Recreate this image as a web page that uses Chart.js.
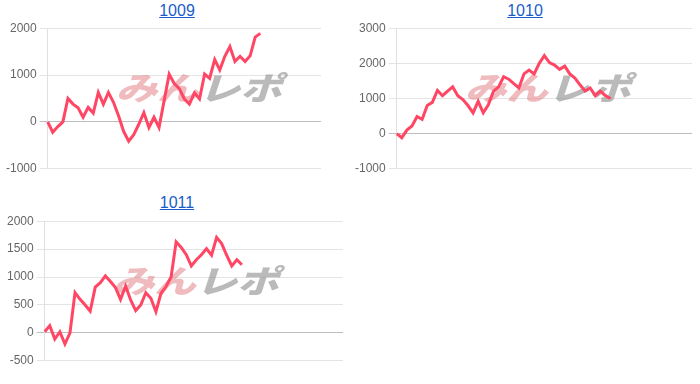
<!DOCTYPE html>
<html>
<head>
<meta charset="utf-8">
<script src="https://cdn.jsdelivr.net/npm/chart.js@4"></script>
<style>
  body { margin: 0; background: #fff; font-family: Arial, "Liberation Sans", sans-serif; }
  .box { position: absolute; }
  .ttl { position: absolute; left: 0; right: 0; text-align: center; font-size: 16px; }
  .ttl a { color: #1a5dc8; text-decoration: underline; }
  canvas { position: absolute; }
</style>
</head>
<body>
<div class="box" style="left:0;top:0;width:354px;height:185px">
  <div class="ttl" style="top:2px"><a href="#">1009</a></div>
  <canvas id="c1" width="324" height="161" style="left:0;top:18px"></canvas>
</div>
<div class="box" style="left:350px;top:0;width:350px;height:185px">
  <div class="ttl" style="top:2px"><a href="#">1010</a></div>
  <canvas id="c2" width="346" height="161" style="left:0;top:18px"></canvas>
</div>
<div class="box" style="left:0;top:192px;width:354px;height:185px">
  <div class="ttl" style="top:2px"><a href="#">1011</a></div>
  <canvas id="c3" width="347" height="160" style="left:0;top:19px"></canvas>
</div>
<script>
// values
var names = ['1009', '1010', '1011'];
var slots = [55, 59, 60];

var data1009 = [0, -220, -100, 0, 500, 380, 300, 100, 310, 190, 630, 380, 630, 420, 130, -200, -410, -270, -50, 200,
  -120, 100, -120, 450, 1020, 820, 710, 490, 380, 620, 490, 1020, 930, 1330, 1110, 1400, 1610, 1290, 1400, 1290,
  1410, 1810, 1890];
var data1010 = [0, -115, 100, 220, 490, 410, 800, 890, 1230, 1080, 1210, 1330, 1080, 970, 800, 590, 920, 590, 820, 1200,
  1330, 1620, 1550, 1420, 1300, 1700, 1810, 1700, 2000, 2220, 2020, 1950, 1830, 1920, 1700, 1580, 1390, 1210, 1300,
  1080, 1210, 1080, 1000];
var data1011 = [20, 130, -110, 20, -200, 0, 720, 600, 500, 390, 820, 900, 1020, 920, 810, 600, 840, 590, 400, 500,
  720, 620, 380, 710, 830, 1000, 1630, 1530, 1400, 1200, 1310, 1400, 1510, 1390, 1710, 1600, 1390, 1200, 1310, 1220];

var yMin = [-1000, -1000, -500];
var yMax = [2000, 3000, 2000];
var yStep = [1000, 1000, 500];

// watermark behind the line
var mark = {
  id: 'mark',
  beforeDatasetsDraw: function(chart) {
    var a = chart.chartArea, ctx = chart.ctx;
    ctx.save();
    ctx.font = 'italic 900 40px "Noto Sans CJK JP"';
    var w1 = ctx.measureText('みん').width, w2 = ctx.measureText('レポ').width;
    var sx = 166 / (w1 + w2);
    ctx.translate(a.left + 68, a.top + 75);
    ctx.scale(sx, 0.8);
    ctx.textBaseline = 'alphabetic';
    ctx.fillStyle = 'rgba(225,120,125,0.5)';
    ctx.fillText('みん', 0, -4);
    ctx.fillStyle = 'rgba(140,140,140,0.6)';
    ctx.fillText('レポ', w1, -4);
    ctx.restore();
  }
};

var sets = [data1009, data1010, data1011];
var pads = [{left: 3, right: 3, top: 0, bottom: 0}, {left: 2, right: 4, top: 0, bottom: 0}, {left: 4, right: 4, top: 0, bottom: 0}];

for (var i = 0; i < 3; i++) {
  var labels = [];
  for (var k = 0; k < slots[i]; k++) labels.push('');
  var ctx = document.getElementById('c' + (i + 1)).getContext('2d');
  new Chart(ctx, {
    type: 'line',
    data: {
      labels: labels,
      datasets: [{
        label: names[i],
        data: sets[i],
        borderColor: 'rgb(255,70,100)',
        borderWidth: 3,
        pointRadius: 0,
        tension: 0,
        fill: false
      }]
    },
    options: {
      responsive: false,
      animation: false,
      layout: { padding: pads[i] },
      plugins: { legend: { display: false }, tooltip: { enabled: false } },
      scales: {
        x: { display: false },
        y: {
          min: yMin[i],
          max: yMax[i],
          ticks: {
            stepSize: yStep[i],
            color: '#666',
            font: { family: 'Arial', size: 12 },
            callback: function(v) { return String(v); }
          },
          grid: {
            color: function(c) { return c.tick && c.tick.value === 0 ? '#bdbdbd' : '#e4e4e4'; },
            lineWidth: 1
          },
          border: { color: '#e0e0e0' }
        }
      }
    },
    plugins: [mark]
  });
}
</script>
</body>
</html>
